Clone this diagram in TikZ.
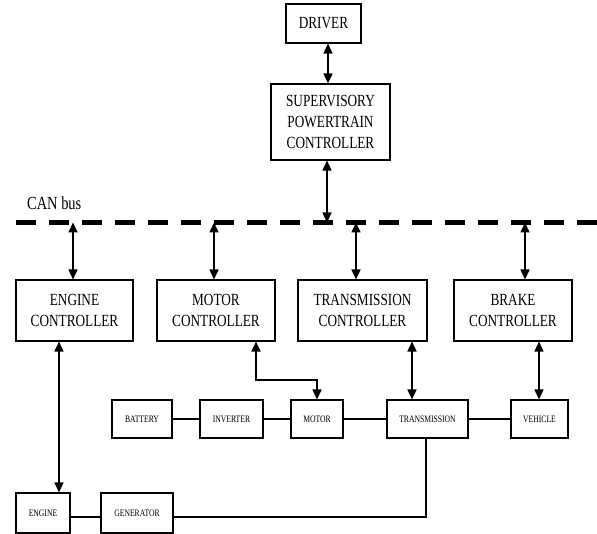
\documentclass[tikz,border=0pt]{standalone}
\usepackage{fontspec}
\newfontfamily\cf[FakeStretch=0.78]{Liberation Serif}
\usetikzlibrary{arrows.meta}
\begin{document}
\begin{tikzpicture}[x=1pt,y=-1pt,
  box/.style={draw, line width=1.1pt, rectangle, inner sep=0pt, align=center},
  bigbox/.style={box, font=\cf\fontsize{17}{21}\selectfont},
  smallbox/.style={box, font=\cf\fontsize{9.8}{11}\selectfont, minimum height=38pt},
  dbl/.style={{Triangle[length=10pt,width=9pt]}-{Triangle[length=10pt,width=9pt]}, line width=1.6pt},
  link/.style={line width=1.1pt},
  bus/.style={line width=4.5pt, dash pattern=on 20pt off 13pt}
]
\useasboundingbox (0,0) rectangle (597,534);

% top
\node[bigbox, minimum width=75pt, minimum height=39pt] (drv) at (323.5,23.5) {DRIVER};
\node[bigbox, minimum width=119pt, minimum height=76pt] (spc) at (330.5,122) {SUPERVISORY\\POWERTRAIN\\CONTROLLER};

% bus
\coordinate (busL) at (16,222.5);
\coordinate (busR) at (597,222.5);
\draw[bus] (busL) -- (busR);
\node[anchor=west, font=\cf\fontsize{18.5}{20}\selectfont, inner sep=0pt] (can) at (27,203) {CAN bus};

\coordinate (bs) at (327,222.5);
\coordinate (be) at (73,222.5);
\coordinate (bm) at (214,222.5);
\coordinate (bt) at (356,222.5);
\coordinate (bb) at (525,222.5);

% controllers
\node[bigbox, minimum width=117pt, minimum height=61pt] (ec) at (74.5,310.5) {ENGINE\\CONTROLLER};
\node[bigbox, minimum width=118pt, minimum height=61pt] (mc) at (216,310.5) {MOTOR\\CONTROLLER};
\node[bigbox, minimum width=129pt, minimum height=61pt] (tc) at (362.5,310.5) {TRANSMISSION\\CONTROLLER};
\node[bigbox, minimum width=118pt, minimum height=61pt] (bc) at (513,310.5) {BRAKE\\CONTROLLER};

% plant row
\node[smallbox, minimum width=60pt] (bat) at (142,419) {BATTERY};
\node[smallbox, minimum width=63pt] (inv) at (231.5,419) {INVERTER};
\node[smallbox, minimum width=52pt] (mot) at (317,419) {MOTOR};
\node[smallbox, minimum width=81pt] (tra) at (427.5,419) {TRANSMISSION};
\node[smallbox, minimum width=57pt] (veh) at (539.5,419) {VEHICLE};

\node[smallbox, minimum width=54pt, minimum height=40pt] (eng) at (43,513) {ENGINE};
\node[smallbox, minimum width=72pt, minimum height=40pt] (gen) at (137,513) {GENERATOR};

% arrows
\draw[dbl] (drv.south -| 328,0) -- (spc.north -| 328,0);
\draw[dbl] (spc.south -| bs) -- (bs);
\draw[dbl] (be) -- (be |- ec.north);
\draw[dbl] (bm) -- (bm |- mc.north);
\draw[dbl] (bt) -- (bt |- tc.north);
\draw[dbl] (bb) -- (bb |- bc.north);

\coordinate (ecx) at (59,0);
\draw[dbl] (ec.south -| ecx) -- (eng.north -| ecx);
\coordinate (mcx) at (256,380);
\draw[dbl] (mc.south -| mcx) -- (mcx) -| (mot.north);
\coordinate (tcx) at (412,0);
\draw[dbl] (tc.south -| tcx) -- (tra.north -| tcx);
\coordinate (bcx) at (539,0);
\draw[dbl] (bc.south -| bcx) -- (veh.north -| bcx);

% links
\draw[link] (bat) -- (inv);
\draw[link] (inv) -- (mot);
\draw[link] (mot) -- (tra);
\draw[link] (tra) -- (veh);
\coordinate (ly) at (0,517);
\draw[link] (eng.east |- ly) -- (gen.west |- ly);
\coordinate (tx) at (426,0);
\draw[link] (gen.east |- ly) -| (tra.south -| tx);
\end{tikzpicture}
\end{document}
